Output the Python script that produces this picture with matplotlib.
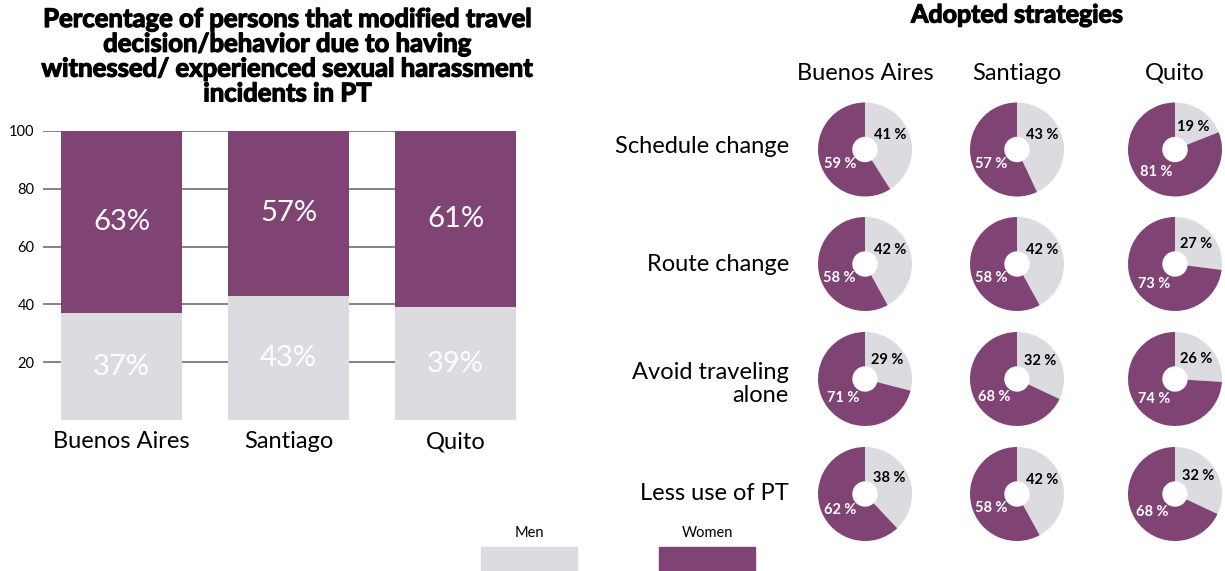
import numpy as np
import matplotlib
matplotlib.use("Agg")
import matplotlib.pyplot as plt
from matplotlib.patches import Rectangle
import matplotlib.patheffects as pe

plt.rcParams['font.family'] = ['Lato', 'DejaVu Sans']

# ---------------- data ----------------
cities = ["Buenos Aires", "Santiago", "Quito"]
men_pct = [37, 43, 39]
women_pct = [63, 57, 61]
y_ticks = [20, 40, 60, 80, 100]

strategies = ["Schedule change", "Route change", "Avoid traveling\nalone", "Less use of PT"]
# men share per strategy (rows) and city (columns)
strategy_men = [
    [41, 43, 19],
    [42, 42, 27],
    [29, 32, 26],
    [38, 42, 32],
]
strategy_women = [
    [59, 57, 81],
    [58, 58, 73],
    [71, 68, 74],
    [62, 58, 68],
]

PURPLE = "#7F4474"
GREY = "#DBDBE0"

W, H = 1225, 571
fig = plt.figure(figsize=(W / 100, H / 100), dpi=100)

def fx(px):
    return px / W

def fy(py):
    return 1 - py / H

heavy = [pe.withStroke(linewidth=0.9, foreground='black')]

# ---------------- bar chart ----------------
ax = fig.add_axes([fx(43), fy(420), fx(516) - fx(43), fy(131) - fy(420)])
x = np.arange(len(cities))
bw = 0.725
ax.bar(x, men_pct, width=bw, color=GREY, zorder=3)
ax.bar(x, women_pct, width=bw, bottom=men_pct, color=PURPLE, zorder=3)
for i in range(len(cities)):
    ax.text(x[i], men_pct[i] / 2, f"{men_pct[i]}%", ha='center', va='center',
            color='white', fontsize=21, fontweight='normal', zorder=4)
    ax.text(x[i], men_pct[i] + women_pct[i] / 2, f"{women_pct[i]}%", ha='center',
            va='center', color='white', fontsize=21, fontweight='normal', zorder=4)
ax.set_xlim(-0.47, 2.362)
ax.set_ylim(0, 100)
ax.set_yticks(y_ticks)
ax.set_yticklabels([str(t) for t in y_ticks], fontsize=10.5)
ax.set_xticks(x)
ax.set_xticklabels(cities, fontsize=17)
ax.tick_params(axis='y', length=0, pad=6)
ax.tick_params(axis='x', length=0, pad=8)
ax.yaxis.grid(True, color='#7a7a7a', linewidth=1.3, zorder=0)
ax.set_axisbelow(True)
for s in ax.spines.values():
    s.set_visible(False)

fig.text(fx(288), fy(7), "Percentage of persons that modified travel\ndecision/behavior due to having\n"
         "witnessed/ experienced sexual harassment\nincidents in PT",
         ha='center', va='top', fontsize=18.5, fontweight='bold', linespacing=1.04,
         path_effects=heavy)

# ---------------- donuts ----------------
pax = fig.add_axes([0, 0, 1, 1])
pax.set_xlim(0, W)
pax.set_ylim(0, H)
pax.set_aspect('equal')
pax.axis('off')

col_x = [865, 1017, 1175]
row_y = [149.5, 264, 379, 494]
R = 47
for r in range(len(strategies)):
    for c in range(len(cities)):
        m = strategy_men[r][c]
        w = strategy_women[r][c]
        cx, cy = col_x[c], H - row_y[r]
        pax.pie([m, w], colors=[GREY, PURPLE], startangle=90, counterclock=False,
                center=(cx, cy), radius=R, wedgeprops=dict(width=R * 0.73, linewidth=0),
                frame=True)
        # label positions derived from wedge mid-angles, pulled toward diagonals
        tot = m + w
        men_mid = 90 - 360 * m / tot / 2
        women_mid = 90 - 360 * m / tot - 360 * w / tot / 2
        a_m = np.deg2rad((men_mid + 45) / 2)
        a_w = np.deg2rad(((women_mid % 360) + 225) / 2)
        rr = 0.62 * R
        pax.text(cx + rr * np.cos(a_m), cy + rr * np.sin(a_m), f"{m} %", ha='center',
                 va='center', fontsize=10.5, fontweight='bold', color='black')
        pax.text(cx + rr * np.cos(a_w), cy + rr * np.sin(a_w), f"{w} %", ha='center',
                 va='center', fontsize=10.5, fontweight='bold', color='white')
pax.set_xlim(0, W)
pax.set_ylim(0, H)
pax.axis('off')

label_dy = [-3, 1, 5, -1]
for r, lab in enumerate(strategies):
    fig.text(fx(789), fy(row_y[r] + label_dy[r]), lab, ha='right', va='center',
             fontsize=17, linespacing=1.1)
for c, lab in enumerate(cities):
    fig.text(fx(col_x[c]), fy(73), lab, ha='center', va='center', fontsize=17)
fig.text(fx(1017), fy(15), "Adopted strategies", ha='center', va='center',
         fontsize=18, fontweight='bold', path_effects=heavy)

# ---------------- legend ----------------
legend_labels = ["Men", "Women"]
legend_colors = [GREY, PURPLE]
legend_x = [481, 659]
for lab, col, lx in zip(legend_labels, legend_colors, legend_x):
    fig.patches.append(Rectangle((fx(lx), fy(571)), fx(96), fy(547) - fy(571),
                                 transform=fig.transFigure, color=col, zorder=1))
    fig.text(fx(lx + 48), fy(533), lab, ha='center', va='center', fontsize=10.5)

fig.savefig("out.png", dpi=100)
